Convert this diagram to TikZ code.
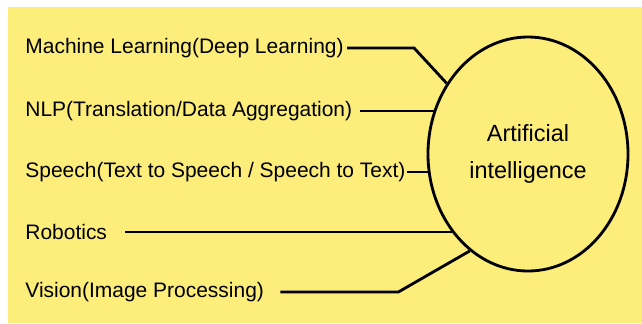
\documentclass[tikz,border=0pt]{standalone}
\usepackage{fontspec}
\setmainfont{Liberation Sans}
\usepackage{tikz}
\usetikzlibrary{positioning, shapes.geometric}
\definecolor{bgyellow}{RGB}{253,237,122}

\begin{document}
\begin{tikzpicture}[x=0.03cm, y=-0.03cm, line width=2.4pt,
    field/.style={anchor=west, inner sep=0pt, font=\fontsize{17.9}{21}\selectfont},
    core/.style={ellipse, draw, minimum width=6cm, minimum height=7.02cm, align=center, font=\fontsize{20}{31}\selectfont}]
    \fill[white] (0,0) rectangle (642,323);
    \fill[bgyellow] (8,7) rectangle (642,323);
    \node[core] (ai) at (528,154) {Artificial\\intelligence};
    \node[field] (ml) at (24,48) {Machine Learning(Deep Learning)};
    \node[field] (nlp) at (24,111) {NLP(Translation/Data Aggregation)};
    \node[field] (sp) at (24,172) {Speech(Text to Speech / Speech to Text)};
    \node[field] (rob) at (24,232) {Robotics};
    \node[field] (vis) at (24,292) {Vision(Image Processing)};
    \draw ([xshift=0.06cm]ml.east) -- ++(67,0) -- (ai.139);
    \draw ([xshift=0.2cm]nlp.east) -- (ai.155 |- nlp.east);
    \draw (sp.east) -- (ai.190 |- sp.east);
    \draw ([xshift=0.5cm]rob.east) -- (ai.226 |- rob.east);
    \draw ([xshift=0.45cm]vis.east) -- ++(118,0) -- (ai.239);
\end{tikzpicture}
\end{document}
